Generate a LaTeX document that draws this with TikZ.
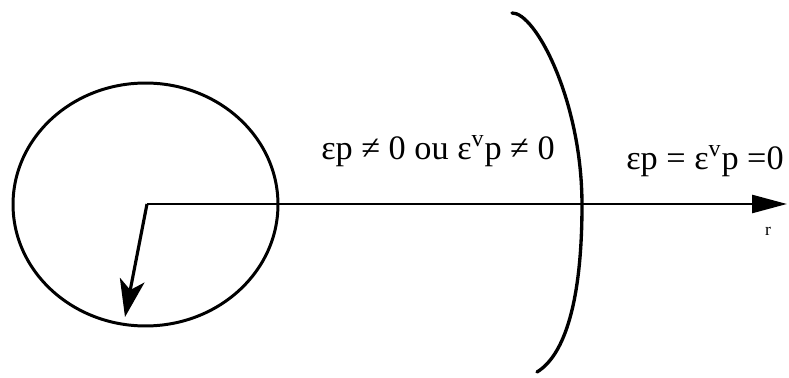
\documentclass[tikz,border=0pt]{standalone}
\usepackage{amsmath,amssymb}
\usepackage{fontspec}
\setmainfont{Liberation Serif}
\usetikzlibrary{arrows.meta, shapes.geometric}

\begin{document}
\begin{tikzpicture}[x=0.02cm, y=-0.02cm, font=\fontsize{19.5}{23}\selectfont,
    bound/.style={ellipse, draw, line width=1.7pt, minimum width=5.3cm,
        minimum height=4.86cm, inner sep=0pt},
    axis/.style={line width=1.5pt, -{Triangle[length=0.7cm, width=0.36cm]}},
    radius/.style={line width=1.8pt, -{Stealth[length=0.75cm, width=0.5cm, inset=0.2cm]}},
    front/.style={line width=1.9pt, line cap=round},
    zone/.style={inner sep=1pt, text=black},
]
    \useasboundingbox (0,0) rectangle (789,378);

    % plastic core and its centre
    \node[bound] (core) at (145.5,204.5) {};
    \coordinate (O) at (147,204);
    \coordinate (Rtip) at (125,317);
    \coordinate (rend) at (787,204);

    \draw[radius] (O) -- (Rtip);
    \draw[axis] (O) -- (rend);
    \node[font=\fontsize{10}{12}\selectfont] (rlab) at (768,231) {r};

    % plastic front
    \coordinate (ftop) at (512,13);
    \coordinate (fmid) at (582,205);
    \coordinate (fbot) at (537,372);
    \draw[front] (ftop) .. controls (535,12) and (582,100) .. (fmid)
        .. controls (582,300) and (565,355) .. (fbot);

    \node[zone] (inner) at (438,151) {εp ≠ 0 ou ε\textsuperscript{v}p ≠ 0};
    \node[zone] (outer) at (705,161) {εp = ε\textsuperscript{v}p =0};

\end{tikzpicture}
\end{document}
